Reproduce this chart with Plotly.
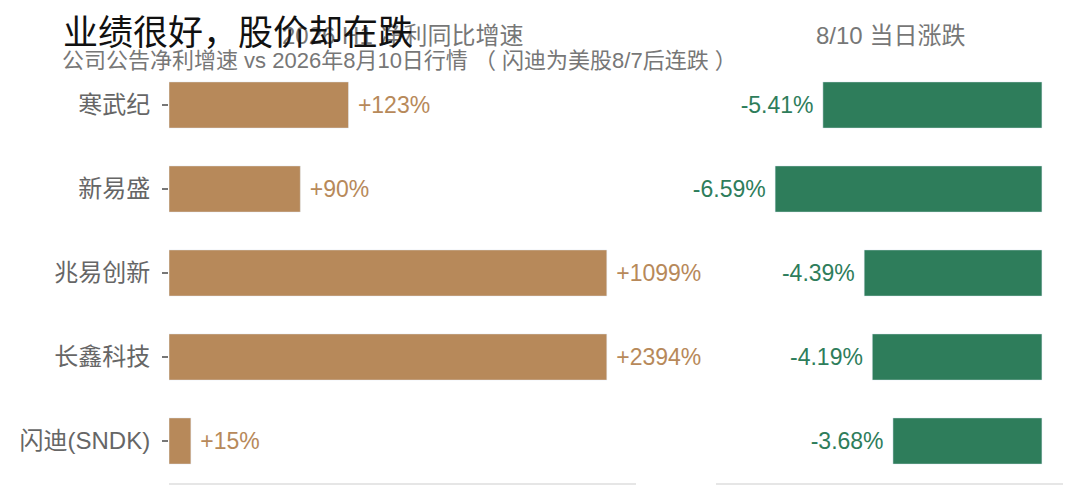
import plotly.graph_objects as go
from plotly.subplots import make_subplots

companies = ['寒武纪', '新易盛', '兆易创新', '长鑫科技', '闪迪(SNDK)']
profitGrowth = [123, 90, 1099, 2394, 15]  # 2026H1 net profit YoY, %
dailyChange = [-5.41, -6.59, -4.39, -4.19, -3.68]  # 8/10 change, %
growthCap = 300  # bars longer than this are cut so the small ones stay readable

BROWN = '#b7895a'
GREEN = '#2e7d5b'
FONT = 'Arial, Noto Sans CJK SC, sans-serif'

# the page body has an 8px margin, so the figure is a bit smaller than the window
OFF = 8
W, H = 1072, 492
L, R, T, B = 161, 17, 55, 17

def px2x(px):  # window pixel -> paper x
  return (px - OFF - L) / (W - L - R)

def px2y(py):  # window pixel -> paper y
  return 1 + (T - (py - OFF)) / (H - T - B)

fig = make_subplots(rows=1, cols=2, shared_yaxes=False, horizontal_spacing=0.09)

fig.add_trace(go.Bar(
  y=companies,
  x=[min(v, growthCap) for v in profitGrowth],
  customdata=profitGrowth,
  orientation='h',
  marker={'color': BROWN},
  texttemplate=' +%{customdata}%',
  textposition='outside',
  textfont={'color': BROWN, 'size': 23},
  cliponaxis=False,
  hoverinfo='skip',
), row=1, col=1)

fig.add_trace(go.Bar(
  y=companies,
  x=dailyChange,
  orientation='h',
  marker={'color': GREEN},
  texttemplate='%{x:.2f}% ',
  textposition='outside',
  textfont={'color': GREEN, 'size': 23},
  cliponaxis=False,
  hoverinfo='skip',
), row=1, col=2)

axisStyle = dict(showgrid=False, zeroline=False, showticklabels=False,
                 showline=True, linecolor='#e6e6e6', linewidth=2)
fig.update_xaxes(domain=[0, px2x(636)], range=[0, 320], **axisStyle, row=1, col=1)
fig.update_xaxes(domain=[px2x(716), 1], range=[-8.05, 0.52], **axisStyle, row=1, col=2)

fig.update_yaxes(autorange='reversed', showgrid=False, zeroline=False, showline=False)
fig.update_yaxes(ticks='outside', ticklen=6, tickcolor='#777', tickwidth=1.5,
                 ticklabelstandoff=7,
                 tickfont={'size': 24, 'color': '#666'}, row=1, col=1)
fig.update_yaxes(showticklabels=False, row=1, col=2)

annotations = [
  dict(text='2026 H1 净利同比增速', x=px2x(402), y=px2y(35),
       xanchor='center', yanchor='middle', font={'size': 24, 'color': '#777'}),
  dict(text='8/10 当日涨跌', x=px2x(890), y=px2y(35),
       xanchor='center', yanchor='middle', font={'size': 24, 'color': '#777'}),
  dict(text='公司公告净利增速 vs 2026年8月10日行情 （ 闪迪为美股8/7后连跌 ）', x=px2x(60), y=px2y(60),
       xanchor='left', yanchor='middle', font={'size': 22, 'color': '#777'}),
  dict(text='业绩很好，股价却在跌', x=px2x(61), y=px2y(32),
       xanchor='left', yanchor='middle', font={'size': 35, 'color': '#111'}),
]
for a in annotations:
  fig.add_annotation(xref='paper', yref='paper', showarrow=False, **a)

fig.update_layout(
  width=W, height=H,
  margin={'l': L, 'r': R, 't': T, 'b': B},
  bargap=0.45,
  showlegend=False,
  plot_bgcolor='white',
  paper_bgcolor='white',
  font={'family': FONT, 'color': '#666'},
)

fig.write_html('out.html')
